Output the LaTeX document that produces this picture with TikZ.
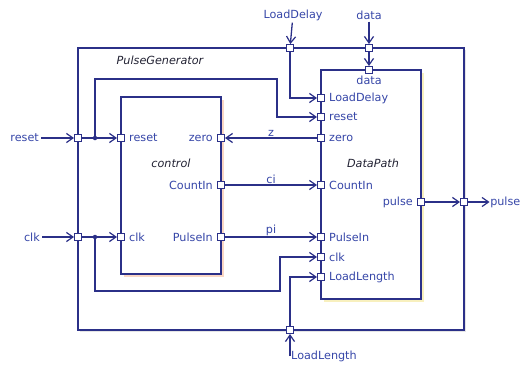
\documentclass[tikz,border=0pt]{standalone}
\usepackage{fontspec}
\setmainfont{DejaVu Sans}
\usepackage{tikz}
\usetikzlibrary{arrows.meta,positioning,calc,shadows}
\definecolor{cWire}{HTML}{2B3088}
\definecolor{cText}{HTML}{3646A8}
\definecolor{cTitle}{HTML}{222233}
\definecolor{cCtrl}{HTML}{F6B08A}
\definecolor{cData}{HTML}{F3E27E}
\tikzset{
  port/.style={draw=cWire, fill=white, line width=1pt, minimum size=7pt, inner sep=0pt},
  wire/.style={draw=cWire, line width=1.3pt},
  sig/.style={wire, -{Straight Barb[length=2.3mm, width=3.2mm, line width=1.2pt]}},
  blk/.style={draw=cWire, line width=1.4pt, fill=white, inner sep=0pt},
  lbl/.style={text=cText, font=\fontsize{11.2}{13}\selectfont, inner sep=2pt},
  ttl/.style={text=cTitle, font=\fontsize{11.2}{13}\selectfont\itshape, inner sep=1pt},
  dot/.style={circle, fill=cWire, inner sep=0pt, minimum size=4.5pt},
}
\begin{document}
\begin{tikzpicture}[x=1pt, y=-1pt]
  \useasboundingbox (0,0) rectangle (521,367);
  % blocks
  \node[blk, minimum width=386pt, minimum height=282pt,
        drop shadow={shadow xshift=1.5pt, shadow yshift=-1.5pt, fill=gray!40}] (pg) at (271,189) {};
  \node[blk, minimum width=100pt, minimum height=177pt,
        drop shadow={shadow xshift=2.5pt, shadow yshift=-2.5pt, fill=cCtrl}] (ctl) at (171,185.5) {};
  \node[blk, minimum width=100pt, minimum height=229pt,
        drop shadow={shadow xshift=2.5pt, shadow yshift=-2.5pt, fill=cData}] (dp) at (371,184.5) {};
  \node[ttl] at (160,60) {PulseGenerator};
  \node[ttl] at (171,163) {control};
  \node[ttl] at (373,163) {DataPath};
  % outer ports
  \node[port] (oReset) at (78,138) {};
  \node[port] (oClk) at (78,237) {};
  \node[port] (oLoadDelay) at (290,48) {};
  \node[port] (oData) at (369,48) {};
  \node[port] (oPulse) at (464,202) {};
  \node[port] (oLoadLength) at (290,330) {};
  % control ports
  \node[port] (cReset) at (121,138) {};
  \node[port] (cClk) at (121,237) {};
  \node[port] (cZero) at (221,138) {};
  \node[port] (cCountIn) at (221,185) {};
  \node[port] (cPulseIn) at (221,237) {};
  \node[lbl, right=2pt of cReset] {reset};
  \node[lbl, right=2pt of cClk] {clk};
  \node[lbl, left=2pt of cZero] {zero};
  \node[lbl, left=2pt of cCountIn] {CountIn};
  \node[lbl, left=2pt of cPulseIn] {PulseIn};
  % datapath ports
  \node[port] (dData) at (369,70) {};
  \node[port] (dLoadDelay) at (321,98) {};
  \node[port] (dReset) at (321,117) {};
  \node[port] (dZero) at (321,138) {};
  \node[port] (dCountIn) at (321,185) {};
  \node[port] (dPulseIn) at (321,237) {};
  \node[port] (dClk) at (321,257) {};
  \node[port] (dLoadLength) at (321,277) {};
  \node[port] (dPulse) at (421,202) {};
  \node[lbl, below=0pt of dData] {data};
  \node[lbl, right=2pt of dLoadDelay] {LoadDelay};
  \node[lbl, right=2pt of dReset] {reset};
  \node[lbl, right=2pt of dZero] {zero};
  \node[lbl, right=2pt of dCountIn] {CountIn};
  \node[lbl, right=2pt of dPulseIn] {PulseIn};
  \node[lbl, right=2pt of dClk] {clk};
  \node[lbl, right=2pt of dLoadLength] {LoadLength};
  \node[lbl, left=2pt of dPulse] {pulse};
  % external pins
  \node[lbl, anchor=east] (lReset) at (41,138) {reset};
  \node[lbl, anchor=east] (lClk) at (42,237) {clk};
  \node[lbl] (lLoadDelay) at (293,15) {LoadDelay};
  \node[lbl] (lData) at (369,15) {data};
  \node[lbl, anchor=east, inner sep=0.5pt] (lPulse) at (521,202) {pulse};
  \node[lbl, anchor=west, inner sep=1pt] (lLoadLength) at (290,356) {LoadLength};
  \node[dot] (jReset) at (95,138) {};
  \node[dot] (jClk) at (95,237) {};
  \coordinate (kReset) at (277,79);
  \coordinate (kClk) at (280,291);
  % wires
  \draw[sig] (lReset) -- (oReset);
  \draw[wire] (oReset) -- (jReset);
  \draw[sig] (jReset) -- (cReset);
  \draw[sig] (jReset) |- (kReset) |- (dReset);
  \draw[sig] (lClk) -- (oClk);
  \draw[wire] (oClk) -- (jClk);
  \draw[sig] (jClk) -- (cClk);
  \draw[sig] (jClk) |- (kClk) |- (dClk);
  \draw[sig] (dZero) -- node[lbl, above, inner sep=1pt]{z} (cZero);
  \draw[sig] (cCountIn) -- node[lbl, above, inner sep=1pt]{ci} (dCountIn);
  \draw[sig] (cPulseIn) -- node[lbl, above, inner sep=1pt]{pi} (dPulseIn);
  \draw[sig] (lLoadDelay) -- (oLoadDelay);
  \draw[sig] (oLoadDelay) |- (dLoadDelay);
  \draw[sig] (lData) -- (oData);
  \draw[sig] (oData) -- (dData);
  \draw[sig] (lLoadLength.west) -- (oLoadLength);
  \draw[sig] (oLoadLength) |- (dLoadLength);
  \draw[sig] (dPulse) -- (oPulse);
  \draw[sig] (oPulse) -- (lPulse);
\end{tikzpicture}
\end{document}
